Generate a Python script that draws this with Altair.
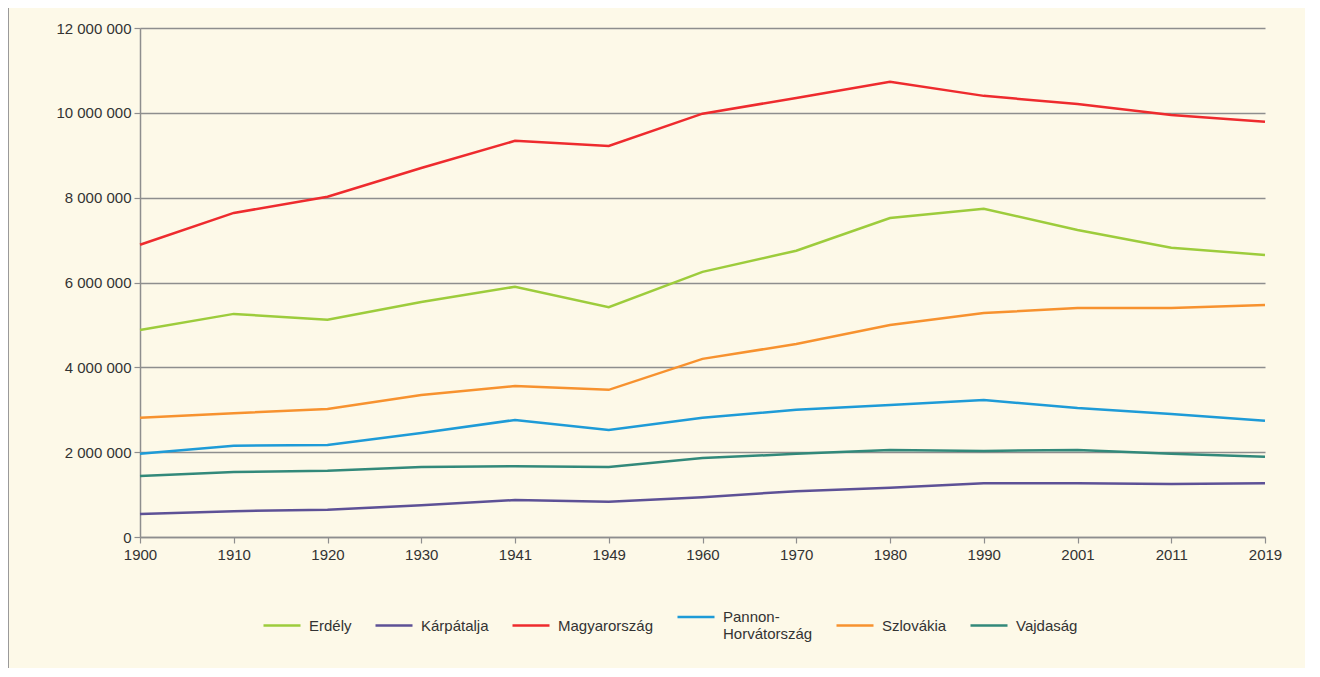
import altair as alt
import pandas as pd

years = ["1900", "1910", "1920", "1930", "1941", "1949", "1960", "1970", "1980", "1990", "2001", "2011", "2019"]
regions = ["Erdély", "Kárpátalja", "Magyarország", "Pannon-Horvátország", "Szlovákia", "Vajdaság"]
colors = ["#9dcc3c", "#5d5196", "#ee2b2e", "#1e9bd7", "#f7922f", "#32897a"]

erdely = [4880000, 5260000, 5120000, 5540000, 5900000, 5420000, 6250000, 6750000, 7520000, 7740000, 7240000, 6820000, 6650000]
karpatalja = [540000, 610000, 640000, 750000, 870000, 830000, 940000, 1080000, 1160000, 1270000, 1270000, 1250000, 1270000]
magyarorszag = [6890000, 7640000, 8020000, 8700000, 9340000, 9220000, 9980000, 10350000, 10730000, 10400000, 10210000, 9950000, 9790000]
pannon = [1960000, 2150000, 2170000, 2450000, 2760000, 2520000, 2810000, 3000000, 3110000, 3230000, 3040000, 2900000, 2740000]
szlovakia = [2810000, 2920000, 3020000, 3350000, 3560000, 3470000, 4200000, 4550000, 5000000, 5280000, 5400000, 5400000, 5470000]
vajdasag = [1440000, 1530000, 1560000, 1650000, 1670000, 1650000, 1860000, 1960000, 2050000, 2030000, 2050000, 1960000, 1890000]

series = [erdely, karpatalja, magyarorszag, pannon, szlovakia, vajdasag]
rows = []
for name, vals in zip(regions, series):
    for yr, v in zip(years, vals):
        rows.append({"year": yr, "value": v, "region": name})
df = pd.DataFrame(rows)

FONT = "Liberation Sans, Arial, Helvetica, sans-serif"
GRAY = "#8e8e8e"
TXT = "#333333"
FS = 15

lines = alt.Chart(df).mark_line(strokeWidth=2.5).encode(
    x=alt.X("year:O", sort=years, scale=alt.Scale(padding=0),
            axis=alt.Axis(title=None, labelAngle=0, grid=False, domainColor=GRAY, tickColor=GRAY,
                          tickSize=6, domainWidth=1.5, tickWidth=1.2, labelFont=FONT, labelFontSize=FS,
                          labelColor=TXT, labelPadding=4)),
    y=alt.Y("value:Q", scale=alt.Scale(domain=[0, 12000000], nice=False),
            axis=alt.Axis(title=None, values=[0, 2000000, 4000000, 6000000, 8000000, 10000000, 12000000],
                          labelExpr="replace(format(datum.value, ',d'), regexp(',', 'g'), ' ')",
                          grid=True, gridColor=GRAY, gridWidth=1.3, domainColor=GRAY, domainWidth=1.5,
                          tickColor=GRAY, tickSize=6, tickWidth=1.2, labelFont=FONT, labelFontSize=FS,
                          labelColor=TXT, labelPadding=3)),
    color=alt.Color("region:N", scale=alt.Scale(domain=regions, range=colors),
                    legend=alt.Legend(title=None, orient="none", legendX=122, legendY=569,
                                      direction="horizontal", symbolType="stroke", symbolSize=1369,
                                      symbolStrokeWidth=2.5, labelFont=FONT, labelFontSize=FS,
                                      labelColor=TXT, labelOffset=7, columnPadding=18, labelLimit=300,
                                      labelExpr="datum.label == 'Pannon-Horvátország' ? ['Pannon-', 'Horvátország'] : datum.label")),
)

border = alt.Chart(pd.DataFrame({"a": [0]})).mark_rule(color="#9a9a9a", strokeWidth=2).encode(
    x=alt.value(-132), y=alt.value(-20), y2=alt.value(640)
)

chart = alt.layer(border, lines).properties(
    width=1125, height=509,
    autosize=alt.AutoSizeParams(type="none"),
    padding={"left": 132, "top": 20, "right": 40, "bottom": 131},
).configure(background="#fdf9e8").configure_view(stroke=None)

chart.save("out.html", embed_options={"renderer": "svg", "actions": False})
